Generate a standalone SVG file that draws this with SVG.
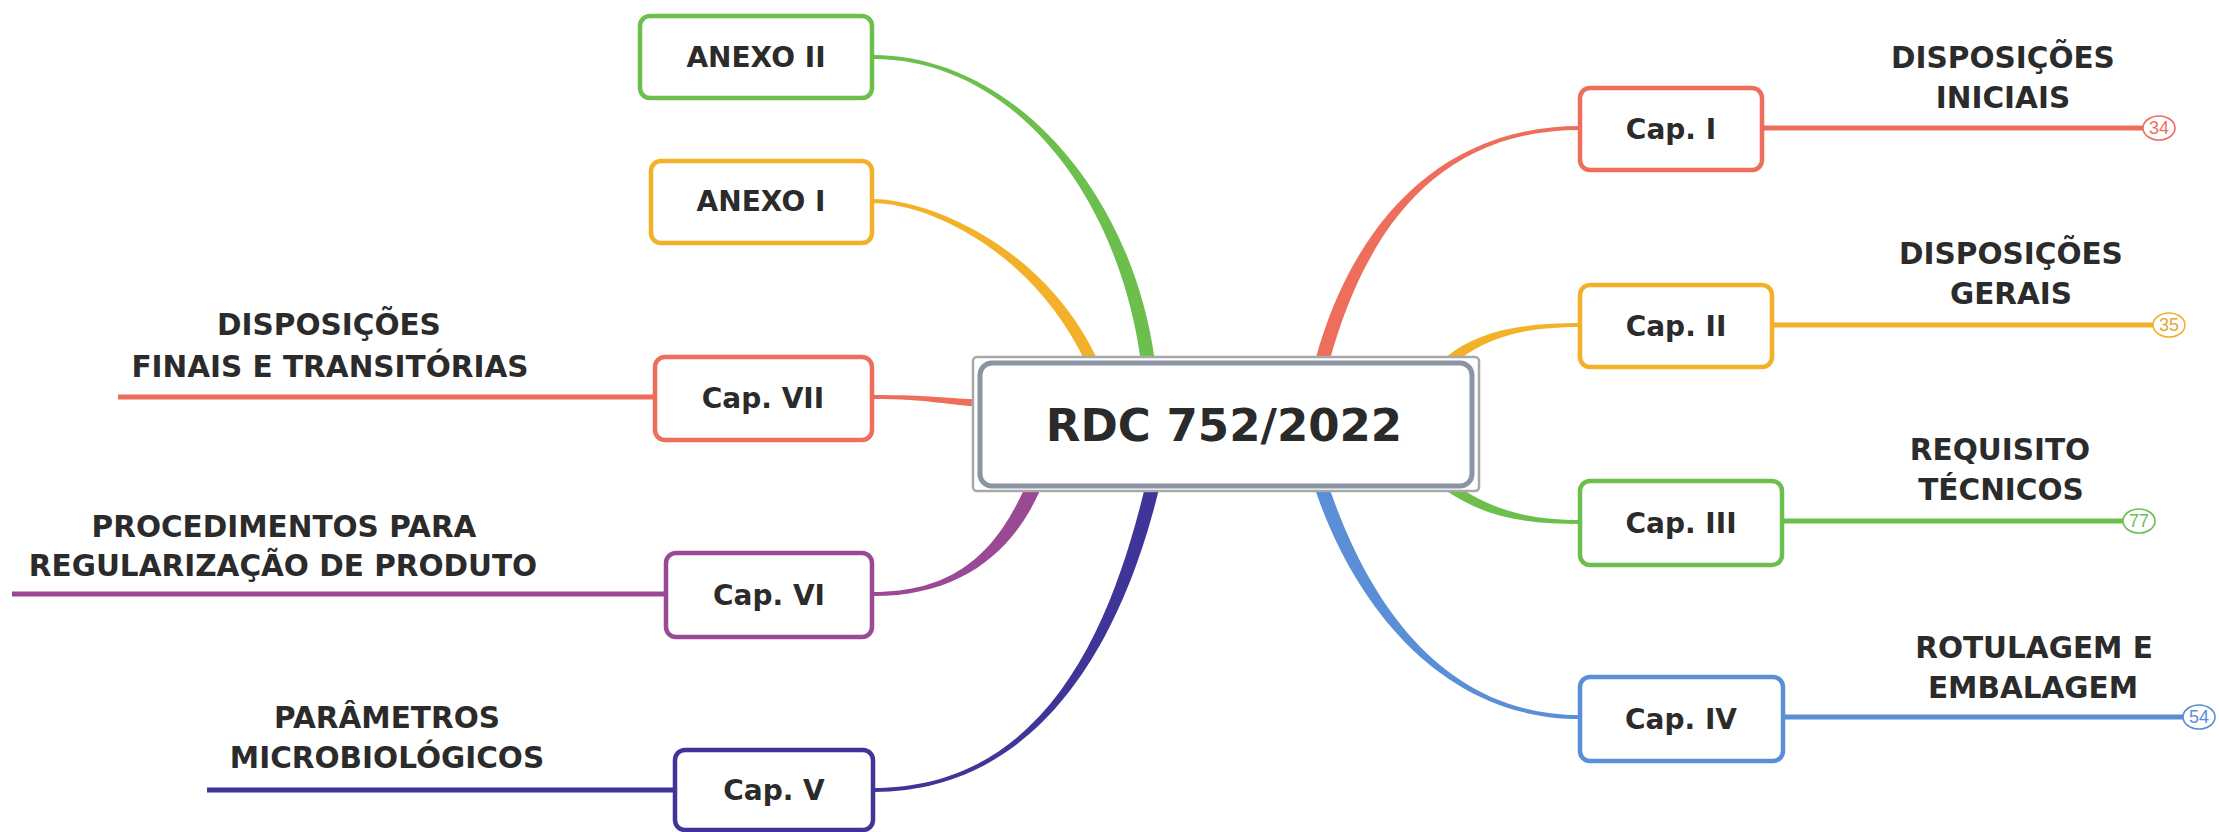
<svg xmlns="http://www.w3.org/2000/svg" width="2219" height="832" viewBox="0 0 2219 832">
<style>
.bg{fill:#ffffff}
.node{fill:#ffffff;stroke-width:4.5}
.t{font-family:"DejaVu Sans","Liberation Sans",sans-serif;font-weight:bold;fill:#2b2b2b;text-anchor:middle}
.nt{font-size:28px}
.lt{font-size:29.5px}
.ct{font-size:45px;fill:#2a2a2a}
.num{font-family:"Liberation Sans",Arial,sans-serif;font-size:18px;text-anchor:middle}
.line{fill:none;stroke-width:5;stroke-linecap:butt}
.badge{fill:#ffffff;stroke-width:1.6}
.red{stroke:#ee6e5c}.redf{fill:#ee6e5c}
.yel{stroke:#f3b129}.yelf{fill:#f3b129}
.grn{stroke:#6cbf4d}.grnf{fill:#6cbf4d}
.blu{stroke:#5a8ed6}.bluf{fill:#5a8ed6}
.pur{stroke:#9a4a94}.purf{fill:#9a4a94}
.nav{stroke:#3f3498}.navf{fill:#3f3498}
</style>
<rect class="bg" x="0" y="0" width="2219" height="832"/>
<g id="connectors">
  <!-- tapered branches from central node -->
  <path class="grnf" d="M1154.9,361.1 C1131.9,189.1 1010,55 873,55 L873,59 C1010,59 1118.1,190.9 1141.1,362.9 Z"/>
  <path class="yelf" d="M1097.4,359.5 C1045.4,247.5 930,199 872,199 L872,203 C930,203 1034.6,252.5 1086.6,364.5 Z"/>
  <path class="redf" d="M980,399.5 C950,398.5 930,395 872,395 L872,399 C930,399 950,405.5 980,406.5 Z"/>
  <path class="purf" d="M1026.2,484.9 C998.2,546.9 960,592 873,592 L873,596 C960,596 1011.8,553.1 1039.8,491.1 Z"/>
  <path class="navf" d="M1145.2,486.35 C1113.2,618.35 1050,788 873,788 L873,792 C1050,792 1126.8,621.65 1158.8,489.65 Z"/>
  <path class="redf" d="M1328.8,363.8 C1361.8,241.8 1430,130 1580,130 L1580,126 C1430,126 1348.2,238.2 1315.2,360.2 Z"/>
  <path class="yelf" d="M1451.2,365.8 C1483.2,338.8 1520,327 1580,327 L1580,323 C1520,323 1476.8,331.2 1444.8,358.2 Z"/>
  <path class="grnf" d="M1445.2,490.1 C1487.2,519.1 1530,524 1580,524 L1580,520 C1530,520 1492.8,510.9 1450.8,481.9 Z"/>
  <path class="bluf" d="M1315.4,490.25 C1353.4,602.25 1440,719 1580,719 L1580,715 C1440,715 1366.6,597.75 1328.6,485.75 Z"/>
  <!-- outer topic lines -->
  <line class="line red" x1="1763" y1="128" x2="2143" y2="128"/>
  <line class="line yel" x1="1773" y1="325" x2="2153" y2="325"/>
  <line class="line grn" x1="1782" y1="521" x2="2123" y2="521"/>
  <line class="line blu" x1="1783" y1="717" x2="2183" y2="717"/>
  <line class="line red" x1="118" y1="397" x2="655" y2="397"/>
  <line class="line pur" x1="12" y1="594" x2="666" y2="594"/>
  <line class="line nav" x1="207" y1="790" x2="675" y2="790"/>
</g>
<g id="central">
  <rect x="973" y="357" width="506" height="134" rx="4" fill="#ffffff" stroke="#a8a8a8" stroke-width="2.5"/>
  <rect x="980" y="363" width="492" height="123" rx="12" fill="#ffffff" stroke="#8a94a3" stroke-width="5"/>
  <text class="t ct" x="1224" y="441">RDC 752/2022</text>
</g>
<g id="anexo2">
  <rect class="node grn" x="640" y="16" width="232" height="82" rx="10"/>
  <text class="t nt" x="756" y="67">ANEXO II</text>
</g>
<g id="anexo1">
  <rect class="node yel" x="651" y="161" width="221" height="82" rx="10"/>
  <text class="t nt" x="761" y="211">ANEXO I</text>
</g>
<g id="cap7">
  <rect class="node red" x="655" y="357" width="217" height="83" rx="10"/>
  <text class="t nt" x="763" y="408">Cap. VII</text>
</g>
<g id="cap7-label">
  <text class="t lt" x="329" y="335">DISPOSIÇÕES</text>
  <text class="t lt" x="330" y="377">FINAIS E TRANSITÓRIAS</text>
</g>
<g id="cap6">
  <rect class="node pur" x="666" y="553" width="206" height="84" rx="10"/>
  <text class="t nt" x="769" y="605">Cap. VI</text>
</g>
<g id="cap6-label">
  <text class="t lt" x="284" y="537">PROCEDIMENTOS PARA</text>
  <text class="t lt" x="283" y="576">REGULARIZAÇÃO DE PRODUTO</text>
</g>
<g id="cap5">
  <rect class="node nav" x="675" y="750" width="198" height="80" rx="10"/>
  <text class="t nt" x="774" y="800">Cap. V</text>
</g>
<g id="cap5-label">
  <text class="t lt" x="387" y="728">PARÂMETROS</text>
  <text class="t lt" x="387" y="768">MICROBIOLÓGICOS</text>
</g>
<g id="cap1">
  <rect class="node red" x="1580" y="88" width="182" height="82" rx="10"/>
  <text class="t nt" x="1671" y="139">Cap. I</text>
</g>
<g id="cap1-label">
  <text class="t lt" x="2003" y="68">DISPOSIÇÕES</text>
  <text class="t lt" x="2003" y="108">INICIAIS</text>
  <ellipse class="badge red" cx="2159" cy="128" rx="16" ry="12"/>
  <text class="num" x="2159" y="134" fill="#ee6e5c">34</text>
</g>
<g id="cap2">
  <rect class="node yel" x="1580" y="285" width="192" height="82" rx="10"/>
  <text class="t nt" x="1676" y="336">Cap. II</text>
</g>
<g id="cap2-label">
  <text class="t lt" x="2011" y="264">DISPOSIÇÕES</text>
  <text class="t lt" x="2011" y="304">GERAIS</text>
  <ellipse class="badge yel" cx="2169" cy="325" rx="16" ry="12"/>
  <text class="num" x="2169" y="331" fill="#e0a73a">35</text>
</g>
<g id="cap3">
  <rect class="node grn" x="1580" y="481" width="202" height="84" rx="10"/>
  <text class="t nt" x="1681" y="533">Cap. III</text>
</g>
<g id="cap3-label">
  <text class="t lt" x="2000" y="460">REQUISITO</text>
  <text class="t lt" x="2001" y="500">TÉCNICOS</text>
  <ellipse class="badge grn" cx="2139" cy="521" rx="16" ry="12"/>
  <text class="num" x="2139" y="527" fill="#6cbf4d">77</text>
</g>
<g id="cap4">
  <rect class="node blu" x="1580" y="677" width="203" height="84" rx="10"/>
  <text class="t nt" x="1681" y="729">Cap. IV</text>
</g>
<g id="cap4-label">
  <text class="t lt" x="2034" y="658">ROTULAGEM E</text>
  <text class="t lt" x="2033" y="698">EMBALAGEM</text>
  <ellipse class="badge blu" cx="2199" cy="717" rx="16" ry="12"/>
  <text class="num" x="2199" y="723" fill="#5a8ed6">54</text>
</g>
</svg>
